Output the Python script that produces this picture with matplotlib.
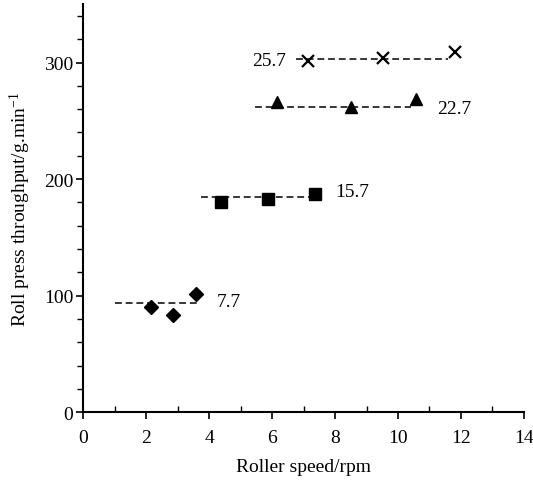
import matplotlib
matplotlib.use("Agg")
import matplotlib.pyplot as plt
from matplotlib.ticker import MultipleLocator

plt.rcParams["font.family"] = ["Liberation Serif", "DejaVu Serif"]
plt.rcParams["mathtext.fontset"] = "custom"
plt.rcParams["mathtext.rm"] = "Liberation Serif"
plt.rcParams["mathtext.it"] = "Liberation Serif:italic"

# Roller gap groups and their measured points
group_labels = ["7.7", "15.7", "22.7", "25.7"]
speed_77 = [2.14, 2.84, 3.60]
thru_77 = [90, 83, 101]
speed_157 = [4.38, 5.87, 7.35]
thru_157 = [180, 183, 187]
speed_227 = [6.15, 8.52, 10.57]
thru_227 = [266, 262, 269]
speed_257 = [7.13, 9.53, 11.80]
thru_257 = [301, 304, 309]

# Mean throughput level of each group and the speed span of its dashed line
mean_levels = [94, 185, 262, 303]
line_start = [1.0, 3.75, 5.45, 6.75]
line_end = [3.63, 7.26, 10.4, 11.6]

# Label anchor positions
label_x = [4.25, 8.0, 11.25, 6.45]
label_y = [95, 189, 261, 302]
label_ha = ["left", "left", "left", "right"]

fig = plt.figure(figsize=(5.33, 4.81), dpi=100)
ax = fig.add_axes([0.156, 0.141, 0.827, 0.848])

series = [
    (speed_77, thru_77, "D", 7.0, 1.0),
    (speed_157, thru_157, "s", 8.0, 1.0),
    (speed_227, thru_227, "^", 8.5, 1.0),
    (speed_257, thru_257, "x", 8.0, 1.6),
]

for i, (xs, ys, mk, ms, mew) in enumerate(series):
    ax.plot([line_start[i], line_end[i]], [mean_levels[i]] * 2,
            color="black", lw=1.1, ls=(0, (4.5, 2.5)))
    ax.plot(xs, ys, ls="none", marker=mk, ms=ms, mew=mew,
            color="black", mfc="black", mec="black")
    ax.text(label_x[i], label_y[i], group_labels[i], fontsize=14,
            ha=label_ha[i], va="center")

ax.set_xlim(0, 14)
ax.set_ylim(0, 350)
ax.xaxis.set_major_locator(MultipleLocator(2))
ax.xaxis.set_minor_locator(MultipleLocator(1))
ax.yaxis.set_major_locator(MultipleLocator(100))
ax.yaxis.set_minor_locator(MultipleLocator(20))

for s in ["top", "right"]:
    ax.spines[s].set_visible(False)
for s in ["left", "bottom"]:
    ax.spines[s].set_linewidth(1.5)

ax.tick_params(axis="x", which="major", direction="out", length=5, width=1.2,
               labelsize=14, pad=7)
ax.tick_params(axis="x", which="minor", direction="in", length=4, width=1.0)
ax.tick_params(axis="y", which="major", direction="out", length=5, width=1.2,
               labelsize=14, pad=2)
ax.tick_params(axis="y", which="minor", direction="out", length=4, width=1.0)

ax.set_xlabel("Roller speed/rpm", fontsize=14, labelpad=9)
ax.set_ylabel("Roll press throughput/g.min$^{-1}$", fontsize=14, labelpad=8)

fig.savefig("out.png", dpi=100)
